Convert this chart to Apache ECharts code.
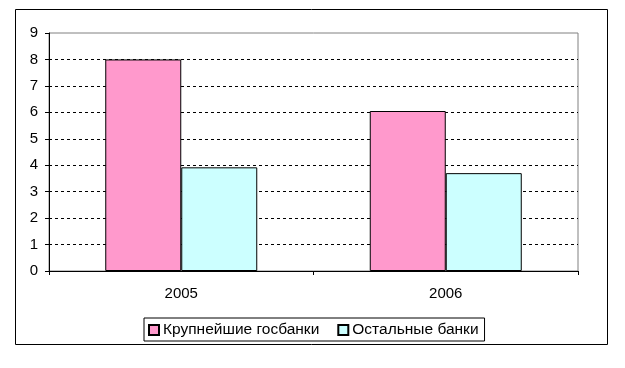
<!DOCTYPE html>
<html><head><meta charset="utf-8">
<script src="https://cdn.jsdelivr.net/npm/echarts@6/dist/echarts.min.js"></script>
<style>html,body{margin:0;padding:0;background:#fff}#c{width:625px;height:368px}</style>
</head><body><div id="c"></div>
<script>
const categories = ['2005', '2006'];
const seriesNames = ['Крупнейшие госбанки', 'Остальные банки'];
const bigStateBanks = [8.0, 6.05];
const otherBanks = [3.92, 3.7];
const yTicks = [0, 1, 2, 3, 4, 5, 6, 7, 8, 9];

const font = 'Arial, "Liberation Sans", sans-serif';
const chart = echarts.init(document.getElementById('c'), null, {renderer: 'canvas'});
chart.setOption({
  animation: false,
  backgroundColor: '#fff',
  graphic: [{
    type: 'rect', shape: {x: 15.5, y: 9.5, width: 592, height: 335},
    style: {fill: 'none', stroke: '#000', lineWidth: 1}, z: -1
  }],
  grid: {left: 49, right: 47, top: 33, bottom: 97, show: true, borderColor: '#808080', borderWidth: 1, backgroundColor: 'transparent'},
  legend: {
    data: seriesNames, left: 144, top: 318, orient: 'horizontal',
    itemWidth: 10, itemHeight: 10, itemGap: 18, icon: 'rect',
    borderColor: '#000', borderWidth: 1, padding: [4, 6, 3, 4],
    textStyle: {fontFamily: font, fontSize: 15.5, color: '#000', padding: [0, 0, 0, -1]}
  },
  xAxis: {
    type: 'category', data: categories,
    axisLine: {lineStyle: {color: '#000', width: 1}},
    axisTick: {show: true, length: 4, lineStyle: {color: '#000'}},
    axisLabel: {fontFamily: font, fontSize: 15, color: '#000', margin: 15},
    splitLine: {show: false}
  },
  yAxis: {
    type: 'value', min: 0, max: 9, interval: 1,
    axisLine: {show: true, lineStyle: {color: '#000', width: 1}},
    axisTick: {show: true, length: 4, lineStyle: {color: '#000'}},
    axisLabel: {fontFamily: font, fontSize: 15, color: '#000', margin: 11,
      formatter: v => yTicks.includes(v) ? String(v) : ''},
    splitLine: {show: true, showMinLine: false, showMaxLine: false, lineStyle: {color: '#000', type: [3, 3], width: 1}}
  },
  series: [
    {name: seriesNames[0], type: 'bar', data: bigStateBanks, barWidth: 76, barGap: '0%',
      itemStyle: {color: '#FF99CC', borderColor: '#000', borderWidth: 1}},
    {name: seriesNames[1], type: 'bar', data: otherBanks, barWidth: 76, barGap: '0%',
      itemStyle: {color: '#CCFFFF', borderColor: '#000', borderWidth: 1}}
  ]
});
</script></body></html>
